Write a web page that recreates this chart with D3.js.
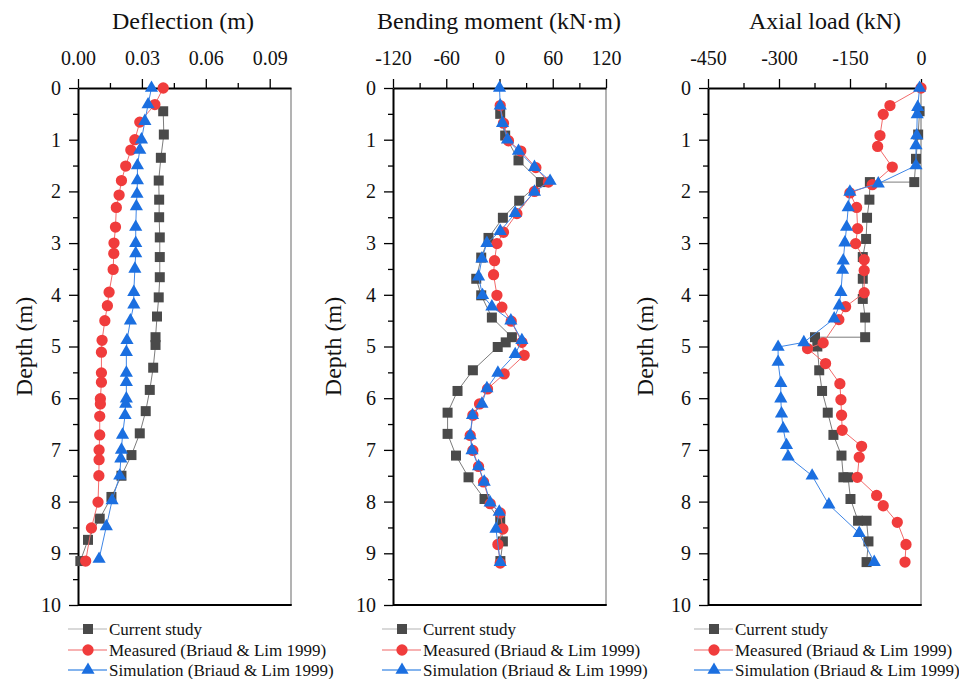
<!DOCTYPE html>
<html>
<head>
<meta charset="utf-8">
<script src="https://cdn.jsdelivr.net/npm/d3@7"></script>
<style>
  body { margin: 0; background: #fff; }
  svg { font-family: "Liberation Serif", "Times New Roman", serif; }
</style>
</head>
<body>
<div id="chart"></div>
<script>
var svgWidth = 959;
var svgHeight = 679;

// depth ticks (shared by all three panels)
var depthTicks = [0, 1, 2, 3, 4, 5, 6, 7, 8, 9, 10];

// ---- Deflection (m) ----
var defTicks = [0, 0.03, 0.06, 0.09];
var defCurDepth = [0.45, 0.9, 1.35, 1.79, 2.16, 2.5, 2.89, 3.27, 3.66, 4.05, 4.42, 4.82, 4.97, 5.41, 5.84, 6.25, 6.68, 7.1, 7.5, 7.91, 8.33, 8.74, 9.15];
var defCur = [0.0400, 0.0403, 0.0389, 0.0379, 0.0381, 0.0381, 0.0384, 0.0384, 0.0384, 0.0379, 0.0371, 0.0364, 0.0364, 0.0353, 0.0337, 0.0318, 0.0290, 0.0251, 0.0204, 0.0157, 0.0102, 0.0047, 0.0011];
var defMeasDepth = [0, 0.32, 0.66, 1.0, 1.2, 1.51, 1.79, 2.07, 2.31, 2.69, 3.0, 3.2, 3.51, 3.95, 4.21, 4.5, 4.88, 5.11, 5.51, 5.69, 6.01, 6.11, 6.35, 6.71, 7.0, 7.19, 7.5, 8.01, 8.51, 9.15];
var defMeas = [0.040, 0.0361, 0.029, 0.0267, 0.0248, 0.0224, 0.0204, 0.0193, 0.018, 0.0176, 0.0169, 0.0168, 0.0165, 0.0146, 0.0138, 0.0126, 0.0113, 0.011, 0.011, 0.011, 0.0105, 0.0105, 0.0102, 0.0102, 0.0099, 0.0099, 0.0098, 0.0094, 0.0063, 0.0036];
var defSimDepth = [0, 0.32, 0.64, 1.0, 1.2, 1.5, 1.79, 2.05, 2.29, 2.69, 3.0, 3.2, 3.5, 3.95, 4.19, 4.5, 4.88, 5.11, 5.51, 5.69, 6.01, 6.11, 6.33, 6.71, 7.0, 7.17, 7.5, 7.98, 8.48, 9.11];
var defSim = [0.0345, 0.0329, 0.0314, 0.0298, 0.029, 0.0279, 0.0279, 0.0277, 0.0274, 0.0271, 0.0271, 0.0271, 0.0267, 0.0262, 0.0262, 0.0246, 0.023, 0.0227, 0.0227, 0.0227, 0.0227, 0.0224, 0.0221, 0.0209, 0.0204, 0.0201, 0.0196, 0.016, 0.0133, 0.0099];

// ---- Bending moment (kN·m) ----
var bmTicks = [-120, -60, 0, 60, 120];
var bmCurDepth = [0.5, 0.92, 1.40, 1.82, 2.18, 2.51, 2.90, 3.28, 3.69, 4.01, 4.44, 4.82, 4.92, 5.01, 5.46, 5.86, 6.28, 6.69, 7.11, 7.53, 7.95, 8.37, 8.77, 9.15];
var bmCur = [0.8, 6.4, 21.4, 46.6, 22.2, 3.8, -12.4, -20.6, -26.2, -20.6, -8.6, 14, 7, -2, -30, -47.3, -58.5, -58.5, -49, -34.9, -16.9, 0.8, 3.8, 1];
var bmMeasDepth = [0.34, 0.68, 1.02, 1.22, 1.54, 1.82, 2.0, 2.43, 2.79, 3.01, 3.34, 3.61, 4.01, 4.24, 4.51, 4.92, 5.17, 5.53, 5.82, 6.11, 6.33, 6.72, 7.01, 7.32, 7.62, 8.04, 8.22, 8.53, 8.83, 9.19];
var bmMeas = [0.8, 4.5, 10.1, 24, 41, 55.1, 39.4, 19.6, 4.5, -2.9, -5.6, -6.7, -2.9, 2.7, 13.2, 25.2, 27.8, 5.3, -13.5, -22.5, -30, -33, -30, -23.6, -18, -10.5, 0.8, 3.8, -1.8, 0.8];
var bmSimDepth = [0, 0.34, 0.68, 1.0, 1.22, 1.53, 1.80, 2.01, 2.42, 2.77, 3.0, 3.30, 3.65, 4.01, 4.23, 4.5, 4.88, 5.15, 5.51, 5.81, 6.11, 6.33, 6.72, 7.01, 7.32, 7.62, 8.02, 8.2, 8.53, 9.17];
var bmSim = [0, 0.8, 3.4, 9, 21.4, 39.4, 57, 39.4, 17.7, 0.8, -14.2, -19.8, -23.6, -19.1, -8.6, 12.8, 25.2, 17.7, -1.8, -14.2, -19.8, -30.4, -33, -31, -23.6, -17.2, -10.5, -0.3, -4, 0.8];

// ---- Axial load (kN) ----
var alTicks = [-450, -300, -150, 0];
var alCurDepth = [0.45, 0.9, 1.37, 1.82, 1.82, 2.16, 2.51, 2.92, 3.27, 3.69, 4.08, 4.44, 4.82, 4.82, 5.0, 5.46, 5.86, 6.28, 6.71, 7.11, 7.53, 7.53, 7.95, 8.37, 8.37, 8.77, 9.17];
var alCur = [-3, -6, -10.6, -14.2, -108, -109, -114, -116, -123, -123, -123, -118, -118, -224, -219, -215, -209, -197, -185, -168, -164, -154, -149, -133, -115, -111, -115];
var alMeasDepth = [0, 0.34, 0.51, 0.92, 1.13, 1.53, 1.87, 2.03, 2.31, 2.72, 3.01, 3.32, 3.53, 3.96, 4.23, 4.48, 4.93, 5.04, 5.33, 5.72, 6.03, 6.33, 6.62, 6.93, 7.14, 7.53, 7.88, 8.08, 8.40, 8.83, 9.17];
var alMeas = [0, -65.6, -79.8, -86.7, -91.6, -60.7, -103, -150.2, -136, -133.9, -138.1, -120, -120, -120, -159.3, -173.5, -206.7, -239.7, -201.6, -171.4, -169.2, -167.8, -166.5, -125.5, -130.5, -134.7, -93.7, -79.8, -50.1, -31.7, -33.8];
var alSimDepth = [0, 0.37, 0.51, 0.92, 1.11, 1.5, 1.85, 2.01, 2.31, 2.69, 2.99, 3.34, 3.52, 3.95, 4.21, 4.46, 4.92, 5.01, 5.30, 5.71, 6.01, 6.30, 6.59, 6.91, 7.13, 7.50, 8.06, 8.61, 9.17];
var alSim = [-3, -7, -8, -9, -10.6, -10.6, -90.3, -150.2, -153.8, -157.2, -160.8, -164.3, -165.7, -169.2, -172.8, -183.4, -247.5, -301.9, -301.9, -296.2, -296.2, -294.7, -291.2, -284.1, -280.7, -230, -194.6, -130.5, -98.8];

var legendNames = ["Current study", "Measured (Briaud & Lim 1999)", "Simulation (Briaud & Lim 1999)"];

// series styles: current study, measured, simulation
var styles = [
  { symbol: d3.symbolSquare, size: 100, fill: "#4a4a4a", line: "#7c7c7c", legendLine: "#cccccc" },
  { symbol: d3.symbolCircle, size: 100, fill: "#f03c3c", line: "#f26b6b", legendLine: "#f59999" },
  { symbol: d3.symbolTriangle, size: 75, fill: "#1b6fe0", line: "#3f86e6", legendLine: "#5b9be9" }
];

var plotTop = 88, plotBottom = 605;

// plain hyphen for negatives, like the original figure
var intFmt = d => String(d);

var panels = [
  { title: "Deflection (m)", titleX: 183, left: 78, right: 291, domain: [0, 0.1], ticks: defTicks, minor: [0.015, 0.045, 0.075],
    fmt: d3.format(".2f"), labelX: 24, legendX: 109,
    series: [[defCurDepth, defCur], [defMeasDepth, defMeas], [defSimDepth, defSim]] },
  { title: "Bending moment (kN\u00b7m)", titleX: 499, left: 393, right: 606, domain: [-120, 120], ticks: bmTicks, minor: [-90, -30, 30, 90],
    fmt: intFmt, labelX: 333, legendX: 423,
    series: [[bmCurDepth, bmCur], [bmMeasDepth, bmMeas], [bmSimDepth, bmSim]] },
  { title: "Axial load (kN)", titleX: 825, left: 708, right: 921, domain: [-450, 0], ticks: alTicks, minor: [-375, -225, -75],
    fmt: intFmt, labelX: 645, legendX: 735,
    series: [[alCurDepth, alCur], [alMeasDepth, alMeas], [alSimDepth, alSim]] }
];

var svg = d3.select("#chart")
  .append("svg")
  .attr("width", svgWidth)
  .attr("height", svgHeight);

var yScale = d3.scaleLinear().domain([0, 10]).range([plotTop, plotBottom]);

function drawPanel(p) {
  var xScale = d3.scaleLinear().domain(p.domain).range([p.left, p.right]);
  var g = svg.append("g");

  // right (gray) and bottom (black) frame
  g.append("line")
    .attr("x1", p.right).attr("x2", p.right)
    .attr("y1", plotTop).attr("y2", plotBottom)
    .attr("stroke", "#9a9a9a").attr("stroke-width", 1.5);
  g.append("line")
    .attr("x1", p.left).attr("x2", p.right + 0.75)
    .attr("y1", plotBottom).attr("y2", plotBottom)
    .attr("stroke", "#000").attr("stroke-width", 2);

  // top axis, major + minor ticks
  var xMinor = g.append("g")
    .attr("transform", `translate(0, ${plotTop})`)
    .call(d3.axisTop(xScale).tickValues(p.minor).tickSize(5).tickSizeOuter(0).tickFormat(""));
  xMinor.select(".domain").remove();

  var xAxis = g.append("g")
    .attr("transform", `translate(0, ${plotTop})`)
    .call(d3.axisTop(xScale).tickValues(p.ticks).tickSize(9).tickSizeOuter(0).tickPadding(14).tickFormat(p.fmt));

  // left axis
  var minorDepth = depthTicks.slice(0, 10).map(d => d + 0.5);
  var yMinor = g.append("g")
    .attr("transform", `translate(${p.left}, 0)`)
    .call(d3.axisLeft(yScale).tickValues(minorDepth).tickSize(5).tickSizeOuter(0).tickFormat(""));
  yMinor.select(".domain").remove();

  var yAxis = g.append("g")
    .attr("transform", `translate(${p.left}, 0)`)
    .call(d3.axisLeft(yScale).tickValues(depthTicks).tickSize(9).tickSizeOuter(0).tickPadding(8).tickFormat(intFmt));

  g.selectAll(".domain").attr("stroke", "#000").attr("stroke-width", 2);
  g.selectAll(".tick line").attr("stroke", "#000").attr("stroke-width", 1.3);
  g.selectAll(".tick text")
    .attr("font-family", "Liberation Serif, serif")
    .attr("font-size", 20)
    .attr("fill", "#111");

  // title
  g.append("text")
    .attr("x", p.titleX)
    .attr("y", 29)
    .attr("text-anchor", "middle")
    .attr("font-size", 24)
    .attr("fill", "#111")
    .text(p.title);

  // y label
  g.append("text")
    .attr("transform", `translate(${p.labelX}, ${(plotTop + plotBottom) / 2}) rotate(-90)`)
    .attr("dy", "0.35em")
    .attr("text-anchor", "middle")
    .attr("font-size", 24)
    .attr("fill", "#111")
    .text("Depth (m)");

  // series
  var line = d3.line()
    .x(d => xScale(d.v))
    .y(d => yScale(d.depth));

  p.series.forEach(function (s, i) {
    var st = styles[i];
    var data = s[0].map((dep, k) => ({ depth: dep, v: s[1][k] }));

    g.append("path")
      .datum(data)
      .attr("d", line)
      .attr("fill", "none")
      .attr("stroke", st.line)
      .attr("stroke-width", 1);

    g.selectAll(".pt" + i)
      .data(data)
      .enter()
      .append("path")
      .attr("class", "pt" + i)
      .attr("transform", d => `translate(${xScale(d.v)}, ${yScale(d.depth)})`)
      .attr("d", d3.symbol().type(st.symbol).size(st.size))
      .attr("fill", st.fill);
  });

  // legend
  var rowY = [629, 650, 670];
  legendNames.forEach(function (name, i) {
    var st = styles[i];
    var lg = g.append("g").attr("transform", `translate(${p.legendX}, ${rowY[i]})`);
    lg.append("line")
      .attr("x1", -41).attr("x2", -2)
      .attr("y1", 0).attr("y2", 0)
      .attr("stroke", st.legendLine)
      .attr("stroke-width", 1.5);
    lg.append("path")
      .attr("transform", "translate(-21, 0)")
      .attr("d", d3.symbol().type(st.symbol).size(st.size))
      .attr("fill", st.fill);
    lg.append("text")
      .attr("x", 0)
      .attr("dy", "0.35em")
      .attr("font-size", 17)
      .attr("fill", "#111")
      .text(name);
  });
}

panels.forEach(drawPanel);
</script>
</body>
</html>
